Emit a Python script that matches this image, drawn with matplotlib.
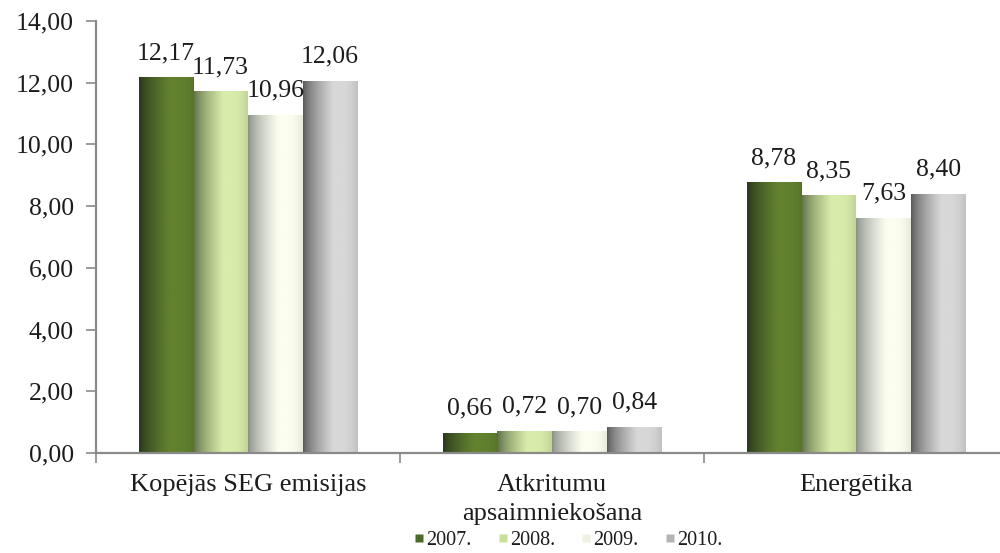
import numpy as np
import matplotlib
matplotlib.use("Agg")
import matplotlib.pyplot as plt
from matplotlib.colors import to_rgb
from matplotlib.lines import Line2D

categories = ["Kopējās SEG emisijas", "Atkritumu\napsaimniekošana", "Energētika"]
years = ["2007.", "2008.", "2009.", "2010."]
values = {
    "2007.": [12.17, 0.66, 8.78],
    "2008.": [11.73, 0.72, 8.35],
    "2009.": [10.96, 0.70, 7.63],
    "2010.": [12.06, 0.84, 8.40],
}
y_ticks = [0, 2, 4, 6, 8, 10, 12, 14]

# shaded (dark edge -> light body) colours for each year, plus legend swatch
shade_dark = {"2007.": "#26331a", "2008.": "#56673f", "2009.": "#868c86", "2010.": "#565656"}
shade_light = {"2007.": "#62812f", "2008.": "#d8ecab", "2009.": "#fcfef0", "2010.": "#d8d8d8"}
swatch = {"2007.": "#4b6a28", "2008.": "#c8e09c", "2009.": "#eef2e2", "2010.": "#b4b4b4"}

plt.rcParams["font.family"] = ["Liberation Serif", "DejaVu Serif"]
text_color = "#1c1c1c"

fig = plt.figure(figsize=(10, 5.53), dpi=100)
ax = fig.add_axes([0.096, 0.181, 0.912, 0.781])

x = np.arange(len(categories))
bar_w = 0.18
n = len(years)

# horizontal profile: dark at the left edge, bright body, slight fall-off at right
t = np.linspace(0, 1, 200)
profile = np.clip(t / 0.55, 0, 1) ** 0.7
profile = profile - 0.18 * np.clip((t - 0.7) / 0.3, 0, 1) ** 2

for i, yr in enumerate(years):
    offs = (i - (n - 1) / 2) * bar_w
    bars = ax.bar(x + offs, values[yr], width=bar_w, color="none", edgecolor="none", zorder=2)
    d = np.array(to_rgb(shade_dark[yr]))
    l = np.array(to_rgb(shade_light[yr]))
    grad = d[None, :] + (l - d)[None, :] * profile[:, None]
    grad = grad[None, :, :]
    for b, v in zip(bars, values[yr]):
        x0 = b.get_x()
        im = ax.imshow(grad, extent=(x0, x0 + b.get_width(), 0, b.get_height()),
                       aspect="auto", interpolation="bilinear", zorder=2)
        im.set_clip_path(b)
        ax.annotate(f"{v:.2f}".replace(".", ","), (b.get_x() + b.get_width() / 2, v),
                    xytext=(0, 13), textcoords="offset points", ha="center", va="baseline",
                    fontsize=18.5, color=text_color, zorder=4)

ax.set_xlim(-0.5, len(categories) - 0.5)
ax.set_ylim(0, 14)
ax.set_yticks(y_ticks)
ax.set_yticklabels([f"{v:.2f}".replace(".", ",") for v in y_ticks])
ax.set_xticks(x)
ax.set_xticklabels(categories, linespacing=1.45)
ax.set_xticks(np.arange(-0.5, len(categories), 1.0), minor=True)

for s in ["top", "right"]:
    ax.spines[s].set_visible(False)
for s in ["left", "bottom"]:
    ax.spines[s].set_color("#8a8a8a")
    ax.spines[s].set_linewidth(1.6)
    ax.spines[s].set_zorder(3)

ax.tick_params(axis="y", length=7, width=1.2, color="#8a8a8a", pad=9,
               labelsize=18.5, labelcolor=text_color)
ax.tick_params(axis="x", which="major", length=0, pad=15, labelsize=19, labelcolor=text_color)
ax.tick_params(axis="x", which="minor", length=7, width=1.2, color="#8a8a8a")

handles = [Line2D([], [], linestyle="none", marker="s", markersize=6,
                  markerfacecolor=swatch[yr], markeredgecolor="none") for yr in years]
fig.legend(handles, years, loc="center", bbox_to_anchor=(0.568, 0.022), ncol=4,
           frameon=False, fontsize=14.5, handlelength=0.5, handletextpad=0.1,
           columnspacing=1.3, borderpad=0, labelcolor=text_color)

fig.savefig("out.png", dpi=100, facecolor="white")
